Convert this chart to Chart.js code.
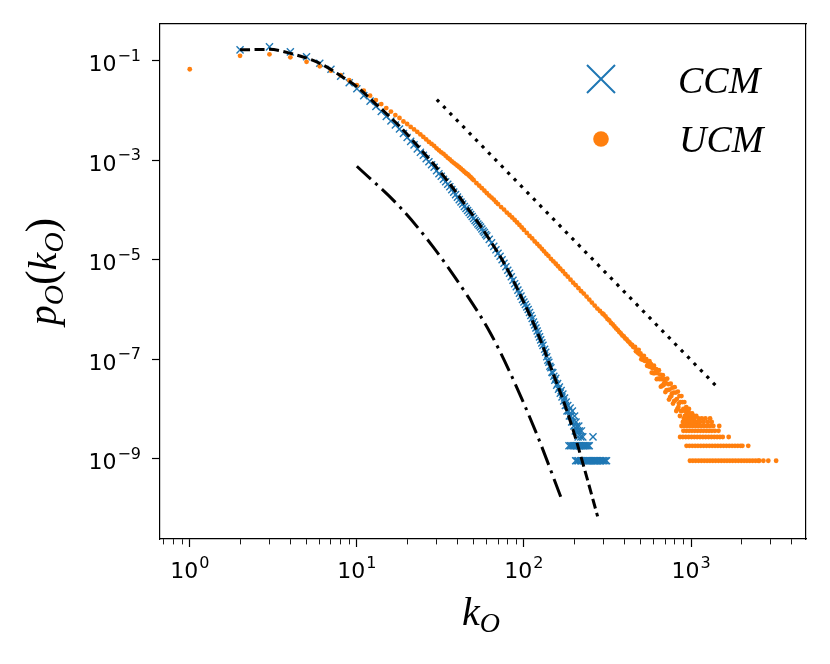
<!DOCTYPE html>
<html><head><meta charset="utf-8">
<script src="https://cdn.jsdelivr.net/npm/chart.js@4.4.1/dist/chart.umd.min.js"></script>
<style>html,body{margin:0;padding:0;background:#fff;}#wrap{width:830px;height:664px;}</style>
</head><body><div id="wrap"><canvas id="c" width="830" height="664"></canvas></div>
<script>
// ---------------- data (k, log10 p) ----------------
const seriesLabels = ['CCM', 'UCM'];

const ccmMain = [[2,-0.78],[3,-0.72],[4,-0.82],[5,-0.92],[6,-1.05],[7,-1.17],[8,-1.31],[9,-1.44],[10,-1.56],
[11,-1.70],[12,-1.81],[13,-1.92],[14,-2.02],[15,-2.12],[16,-2.21],[17,-2.29],[18,-2.37],[19,-2.46],[20,-2.54],
[21,-2.62],[22,-2.69],[23,-2.77],[24,-2.84],[25,-2.90],[26,-2.97],[27,-3.03],[28,-3.09],[29,-3.14],[30,-3.21],
[31,-3.27],[32,-3.32],[33,-3.38],[34,-3.43],[35,-3.48],[36,-3.53],[37,-3.59],[38,-3.64],[39,-3.69],[40,-3.74],
[41,-3.79],[42,-3.84],[43,-3.88],[44,-3.93],[45,-3.97],[46,-4.01],[47,-4.05],[48,-4.09],[49,-4.13],[50,-4.17],
[51,-4.21],[52,-4.24],[53,-4.28],[54,-4.31],[55,-4.34],[56,-4.38],[57,-4.42],[58,-4.45],[59,-4.49],[60,-4.52],
[62,-4.59],[64,-4.66],[66,-4.73],[68,-4.80],[70,-4.87],[72,-4.93],[74,-5.00],[76,-5.07],[78,-5.14],[80,-5.21],
[82,-5.27],[84,-5.34],[86,-5.41],[88,-5.48],[90,-5.54],[92,-5.61],[94,-5.67],[96,-5.73],[98,-5.80],[100,-5.85],
[102,-5.90],[104,-5.95],[106,-6.00],[108,-6.06],[110,-6.12],[112,-6.18],[114,-6.25],[116,-6.31],[118,-6.37],[120,-6.43],
[122,-6.49],[124,-6.55],[126,-6.61],[128,-6.67],[130,-6.72]];

const ccmTail = [[133,-6.80],[135,-6.86],[137,-6.95],[139,-7.02],[141,-7.06],[143,-7.14],[145,-7.17],[147,-7.26],
[149,-7.27],[151,-7.34],[153,-7.42],[155,-7.38],[157,-7.52],[159,-7.49],[161,-7.60],[163,-7.56],[165,-7.68],[167,-7.63],
[169,-7.76],[171,-7.70],[173,-7.84],[175,-7.78],[177,-7.93],[179,-7.86],[181,-8.04],[183,-7.93],[185,-8.04],[187,-8.14],
[189,-7.98],[191,-8.14],[193,-8.26],[195,-8.04],[197,-8.26],[199,-8.34],[201,-8.14],[203,-8.44],[205,-8.26],[207,-8.34],
[209,-8.44],[211,-8.56],[213,-8.34],[215,-8.44],[219,-8.56],[221,-8.44],[225,-8.56],[259,-8.56]];

// k values whose count is 2 and 1 (lowest levels)
const ccmRow2K = [186,190,194,198,202,206,210,214,216,220,226,230,234,238,242,246];
const ccmRow1K = [204,208,212,218,222,228,232,236,240,244,248,252,256,260,264,268,272,276,282,288,294,300,306,312];

const ucmMain = [[1,-1.17],[2,-0.90],[3,-0.87],[4,-0.93],[5,-1.02],[6,-1.11],[7,-1.20],[8,-1.29],[9,-1.39],[10,-1.49],
[11,-1.60],[12,-1.70],[13,-1.79],[14,-1.87],[15,-1.95],[16,-2.02],[17,-2.09],[18,-2.15],[19,-2.22],[20,-2.27],
[21,-2.33],[22,-2.38],[23,-2.43],[24,-2.48],[25,-2.53],[26,-2.58],[27,-2.63],[28,-2.67],[29,-2.71],[30,-2.76],
[31,-2.80],[32,-2.84],[33,-2.87],[34,-2.91],[35,-2.95],[36,-2.98],[37,-3.02],[38,-3.05],[39,-3.08],[40,-3.11],
[41,-3.14],[42,-3.17],[43,-3.20],[44,-3.23],[45,-3.26],[46,-3.28],[47,-3.31],[48,-3.34],[49,-3.37],[50,-3.40],
[52,-3.46],[54,-3.51],[56,-3.56],[58,-3.61],[60,-3.66],[62,-3.71],[64,-3.75],[66,-3.79],[68,-3.84],[70,-3.88],
[73,-3.94],[76,-3.99],[79,-4.05],[82,-4.10],[85,-4.15],[88,-4.20],[91,-4.25],[94,-4.30],[97,-4.35],[100,-4.40],
[104,-4.46],[108,-4.52],[112,-4.57],[116,-4.63],[120,-4.68],[124,-4.73],[128,-4.78],[132,-4.83],[136,-4.88],[140,-4.92],
[145,-4.98],[150,-5.03],[155,-5.08],[160,-5.13],[165,-5.18],[171,-5.23],[177,-5.29],[183,-5.34],[190,-5.40],[197,-5.46],
[204,-5.51],[212,-5.57],[220,-5.63],[228,-5.68],[237,-5.74],[246,-5.80],[255,-5.86],[265,-5.92],[275,-5.98],[285,-6.03],[295,-6.08]];

const ucmTail = [[300,-6.10],[308,-6.14],[316,-6.19],[324,-6.22],[332,-6.27],[340,-6.30],[348,-6.34],[356,-6.38],
[364,-6.41],[372,-6.45],[380,-6.48],[388,-6.52],[396,-6.54],[404,-6.58],[412,-6.60],[420,-6.64],[428,-6.66],[436,-6.70],
[444,-6.71],[450,-6.75],[456,-6.76],[462,-6.75],[468,-6.84],[474,-6.81],[480,-6.87],[486,-6.81],[492,-6.90],[498,-6.88],
[504,-7.00],[510,-6.94],[516,-7.01],[522,-6.93],[528,-7.03],[534,-7.03],[540,-7.00],[546,-7.13],[552,-7.06],[558,-7.14],
[564,-7.04],[570,-7.15],[576,-7.10],[582,-7.27],[588,-7.18],[594,-7.28],[600,-7.13],[606,-7.28],[612,-7.26],[618,-7.20],
[624,-7.40],[630,-7.28],[636,-7.39],[642,-7.22],[648,-7.40],[654,-7.31],[660,-7.55],[666,-7.40],[672,-7.53],[678,-7.32],
[684,-7.52],[690,-7.48],[696,-7.40],[702,-7.66],[708,-7.48],[714,-7.62],[720,-7.39],[726,-7.62],[732,-7.50],[738,-7.81],
[744,-7.61],[750,-7.76],[756,-7.49],[762,-7.74],[768,-7.69],[774,-7.57],[780,-7.89],[786,-7.67],[792,-7.84],[798,-7.56],
[804,-7.83],[810,-7.67],[816,-8.04],[822,-7.80],[828,-8.00],[834,-7.65],[840,-7.96],[846,-7.89],[852,-7.74],[858,-8.14],
[864,-7.86],[870,-8.04],[876,-7.74],[882,-8.04],[888,-7.86],[894,-8.26],[900,-8.00],[906,-8.19],[912,-7.86],[918,-8.14],
[924,-8.04],[930,-8.26],[936,-7.96],[942,-8.09],[948,-8.19],[954,-8.04],[960,-8.14],[966,-8.26],[972,-8.00],[978,-8.19],
[984,-8.09],[990,-8.26],[996,-8.14],[1005,-8.19],[1015,-8.09],[1025,-8.26],[1035,-8.14],[1045,-8.19],[1060,-8.26],
[1075,-8.14],[1090,-8.26],[1110,-8.19],[1130,-8.26],[1160,-8.19],[1190,-8.26],[1220,-8.19],[1260,-8.26],[1300,-8.19],[1330,-8.26]];

const ucmRow5K = [877,912,948,986,1026,1067,1109,1154,1200,1248,1300,1360,1475];
const ucmRow4K = [900,936,973,1012,1053,1095,1139,1184,1232,1281,1332,1390,1460];
const ucmRow3K = [860,894,930,967,1006,1046,1088,1132,1177,1224,1273,1324,1377,1432,1489,1548,1680];
const ucmRow2K = [940,978,1017,1058,1100,1144,1190,1237,1287,1338,1392,1448,1506,1566,1628,1693,1761,1832,1905,1980,2030,2200];
const ucmRow1K = [985,1025,1066,1109,1153,1199,1247,1297,1349,1403,1459,1517,1578,1641,1707,1775,1846,1920,1997,2077,2160,2246,2336,2430,2527,2560,2710,2900,3230];

const countUnitLog10 = -9.04;   // probability of a single count

const fitDashed = [[2,-0.78],[3,-0.77],[4,-0.85],[6,-1.05],[8,-1.30],[10,-1.52],[13,-1.87],[15,-2.06],[18.2,-2.33],
[22,-2.63],[28.7,-3.07],[35,-3.42],[45.5,-3.94],[55,-4.32],[62.7,-4.61],[72,-4.93],[82.6,-5.29],[99,-5.83],
[120,-6.45],[150,-7.30],[175,-7.90],[198,-8.45],[230,-9.20],[276,-10.16]];
const fitDashDot = [[10,-3.12],[18.1,-3.94],[28.6,-4.74],[45.6,-5.71],[62.7,-6.46],[82.6,-7.27],[119.8,-8.52],[168,-9.81]];
const powerLawDotted = [[30.1,-1.78],[1476,-7.60]];

const xTickExponents = [0, 1, 2, 3];
const yTickExponents = [-1, -3, -5, -7, -9];
const xMinorTicks = [0.7,0.8,0.9,2,3,4,5,6,7,8,9,20,30,40,50,60,70,80,90,200,300,400,500,600,700,800,900,2000,3000,4000];

// ---------------- build ----------------
const toPts = arr => arr.map(([k, lg]) => ({x: k, y: Math.pow(10, lg)}));
const rowPts = (ks, n) => ks.map(k => ({x: k, y: n * Math.pow(10, countUnitLog10)}));

const ccmData = toPts(ccmMain).concat(toPts(ccmTail), rowPts(ccmRow2K, 2), rowPts(ccmRow1K, 1));
const ucmData = toPts(ucmMain).concat(toPts(ucmTail), rowPts(ucmRow5K, 5), rowPts(ucmRow4K, 4),
  rowPts(ucmRow3K, 3), rowPts(ucmRow2K, 2), rowPts(ucmRow1K, 1));

const xMajor = xTickExponents.map(e => Math.pow(10, e));
const xAllTicks = xMajor.concat(xMinorTicks).sort((a, b) => a - b);
const isMajorX = v => xMajor.some(m => Math.abs(m - v) / m < 1e-6);

const BLUE = '#1f77b4', ORANGE = '#ff7f0e';

const decoPlugin = {
  id: 'deco',
  afterDraw(chart) {
    const ctx = chart.ctx, xs = chart.scales.x, ys = chart.scales.y, a = chart.chartArea;
    ctx.save();
    ctx.fillStyle = '#000';
    ctx.textBaseline = 'alphabetic';
    ctx.textAlign = 'left';
    const mainF = '22px "DejaVu Sans"', supF = '16px "DejaVu Sans"';
    function powLabel(exp, x, baseY, align) {
      const s = exp < 0 ? '\u2212' + Math.abs(exp) : String(exp);
      ctx.font = mainF; const w1 = ctx.measureText('10').width;
      ctx.font = supF; const w2 = ctx.measureText(s).width;
      const tot = w1 + 1 + w2;
      const x0 = align === 'center' ? x - tot / 2 : x - tot;
      ctx.font = mainF; ctx.fillText('10', x0, baseY);
      ctx.font = supF; ctx.fillText(s, x0 + w1 + 1, baseY - 10.5);
    }
    xTickExponents.forEach(e => powLabel(e, xs.getPixelForValue(Math.pow(10, e)), a.bottom + 39, 'center'));
    yTickExponents.forEach(e => powLabel(e, a.left - 19, ys.getPixelForValue(Math.pow(10, e)) + 10.3, 'right'));

    // math-style axis titles
    const it = 'italic 40px "Liberation Serif"', sub = 'italic 28px "Liberation Serif"', par = '44px "Liberation Serif"';
    function mathText(parts, cx, baseY) {
      let w = 0;
      parts.forEach(p => { ctx.font = p.f; p.w = ctx.measureText(p.t).width; w += p.w; });
      let x = cx - w / 2;
      parts.forEach(p => { ctx.font = p.f; ctx.fillText(p.t, x, baseY + (p.dy || 0)); x += p.w; });
    }
    mathText([{t: 'k', f: it}, {t: 'O', f: sub, dy: 7}], (a.left + a.right) / 2 - 2, 625);
    ctx.save();
    ctx.translate(56, 271.5);
    ctx.rotate(-Math.PI / 2);
    mathText([{t: 'p', f: it}, {t: 'O', f: sub, dy: 7}, {t: '(', f: par}, {t: 'k', f: it},
      {t: 'O', f: sub, dy: 7}, {t: ')', f: par}], 0, 0);
    ctx.restore();

    // legend
    const lx = a.right - 205, ly1 = 79, ly2 = 139;
    ctx.lineWidth = 2;
    ctx.strokeStyle = BLUE; ctx.fillStyle = 'rgba(0,0,0,0)';
    if (Chart.helpers && Chart.helpers.drawPoint) {
      Chart.helpers.drawPoint(ctx, {pointStyle: 'crossRot', radius: 19.8, borderWidth: 2, rotation: 0}, lx, ly1);
      ctx.fillStyle = ORANGE;
      Chart.helpers.drawPoint(ctx, {pointStyle: 'circle', radius: 7.8, borderWidth: 0, rotation: 0}, lx, ly2);
    } else {
      ctx.beginPath(); ctx.moveTo(lx - 14, ly1 - 14); ctx.lineTo(lx + 14, ly1 + 14);
      ctx.moveTo(lx + 14, ly1 - 14); ctx.lineTo(lx - 14, ly1 + 14); ctx.stroke();
      ctx.fillStyle = ORANGE; ctx.beginPath(); ctx.arc(lx, ly2, 7.8, 0, 2 * Math.PI); ctx.fill();
    }
    ctx.fillStyle = '#000';
    ctx.font = 'italic 38px "Liberation Serif"';
    ctx.fillText(seriesLabels[0], lx + 77, 92.5);
    ctx.fillText(seriesLabels[1], lx + 78, 151.5);
    ctx.restore();
  }
};

new Chart(document.getElementById('c'), {
  type: 'scatter',
  data: {
    datasets: [
      {label: 'power law', data: toPts(powerLawDotted), showLine: true, pointRadius: 0, borderColor: '#000',
       borderWidth: 3.2, borderDash: [3.2, 6], borderCapStyle: 'butt', fill: false},
      {label: 'fit dash-dot', data: toPts(fitDashDot), showLine: true, pointRadius: 0, borderColor: '#000',
       borderWidth: 3, borderDash: [19, 6, 3, 6], borderCapStyle: 'butt', cubicInterpolationMode: 'monotone', fill: false},
      {label: 'fit dashed', data: toPts(fitDashed), showLine: true, pointRadius: 0, borderColor: '#000',
       borderWidth: 3, borderDash: [10, 4.5], borderCapStyle: 'butt', cubicInterpolationMode: 'monotone', fill: false},
      {label: seriesLabels[1], data: ucmData, pointStyle: 'circle', pointRadius: 2.4, pointBackgroundColor: ORANGE,
       pointBorderColor: ORANGE, pointBorderWidth: 0},
      {label: seriesLabels[0], data: ccmData, pointStyle: 'crossRot', pointRadius: 5, pointBackgroundColor: BLUE,
       pointBorderColor: BLUE, pointBorderWidth: 1.4}
    ]
  },
  options: {
    responsive: false,
    animation: false,
    events: [],
    layout: {padding: {left: 152, top: 24, right: 24, bottom: 117}},
    plugins: {legend: {display: false}, tooltip: {enabled: false}},
    scales: {
      x: {
        type: 'logarithmic', position: 'bottom', min: Math.pow(10, -0.178), max: Math.pow(10, 3.688),
        afterBuildTicks: s => { s.ticks = xAllTicks.map(v => ({value: v})); },
        ticks: {display: false, autoSkip: false},
        grid: {display: true, drawOnChartArea: false, drawTicks: true, tickLength: 8, tickColor: '#000',
          tickWidth: c => (c.tick && isMajorX(c.tick.value)) ? 1.2 : 0.9,
          tickBorderDash: c => (c.tick && isMajorX(c.tick.value)) ? [] : [5.2, 30]},
        border: {display: true, color: '#000', width: 1.2}
      },
      y: {
        type: 'logarithmic', position: 'left', min: Math.pow(10, -10.613), max: Math.pow(10, -0.26),
        afterBuildTicks: s => { s.ticks = yTickExponents.map(e => ({value: Math.pow(10, e)})); },
        ticks: {display: false, autoSkip: false},
        grid: {display: true, drawOnChartArea: false, drawTicks: true, tickLength: 8, tickColor: '#000', tickWidth: 1.2},
        border: {display: true, color: '#000', width: 1.2}
      },
      x2: {type: 'linear', position: 'top', min: 0, max: 1, ticks: {display: false},
        grid: {display: false, drawTicks: false}, border: {display: true, color: '#000', width: 1.2}},
      y2: {type: 'linear', position: 'right', min: 0, max: 1, ticks: {display: false},
        grid: {display: false, drawTicks: false}, border: {display: true, color: '#000', width: 1.2}}
    }
  },
  plugins: [decoPlugin]
});
</script>
</body></html>
